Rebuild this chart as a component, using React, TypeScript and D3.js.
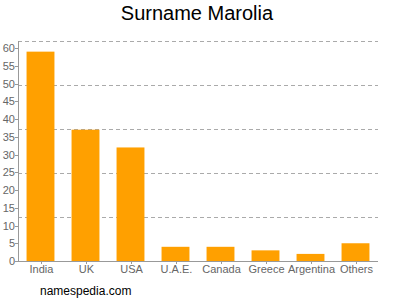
import React from 'react';
import * as d3 from 'd3';

const categories = ['India', 'UK', 'USA', 'U.A.E.', 'Canada', 'Greece', 'Argentina', 'Others'];
const counts = [59, 37, 32, 4, 4, 3, 2, 5];
const yTicks = [0, 5, 10, 15, 20, 25, 30, 35, 40, 45, 50, 55, 60];

const W = 400;
const H = 300;
const left = 18;
const right = 378;
const top = 41;
const bottom = 261;

export default function App() {
  const x = d3.scaleBand<string>()
    .domain(categories)
    .range([left, right])
    .paddingInner(0.38)
    .paddingOuter(0.19);

  const y = d3.scaleLinear().domain([0, 62]).range([bottom, top]);

  // grid lines split the plot height into five equal parts
  const grid = d3.range(1, 6).map(i => (62 * i) / 5);

  const font = 'Arial, "Liberation Sans", sans-serif';

  return (
    <svg width={W} height={H} style={{ position: 'absolute', left: 0, top: 0 }} fontFamily={font}>
      <rect width={W} height={H} fill="#fff" />
      <text x={197} y={20} textAnchor="middle" fontSize={20} fill="#000">Surname Marolia</text>

      {grid.map(g => (
        <line key={g} x1={left} x2={right} y1={Math.round(y(g)) + 0.5} y2={Math.round(y(g)) + 0.5}
          stroke="#aaa" strokeDasharray="4,3" strokeWidth={1} />
      ))}

      {categories.map((c, i) => (
        <rect key={c} x={x(c)} y={y(counts[i])} width={x.bandwidth()} height={bottom - y(counts[i])} fill="#ffa000" />
      ))}

      <line x1={left + 0.5} x2={left + 0.5} y1={top} y2={bottom} stroke="#999" />
      <line x1={left} x2={right} y1={bottom + 0.5} y2={bottom + 0.5} stroke="#999" />

      {yTicks.map(t => (
        <g key={t}>
          <line x1={left - 3} x2={left} y1={Math.round(y(t)) + 0.5} y2={Math.round(y(t)) + 0.5} stroke="#999" />
          <text x={left - 3} y={y(t) + 4} textAnchor="end" fontSize={11} fill="#666">{t}</text>
        </g>
      ))}

      {categories.map(c => {
        const cx = Math.round((x(c) as number) + x.bandwidth() / 2) + 0.5;
        return (
          <g key={c}>
            <line x1={cx} x2={cx} y1={bottom} y2={bottom + 3} stroke="#999" />
            <text x={cx} y={bottom + 12} textAnchor="middle" fontSize={11} fill="#666">{c}</text>
          </g>
        );
      })}

      <text x={40} y={295} fontSize={12} fill="#000">namespedia.com</text>
    </svg>
  );
}
